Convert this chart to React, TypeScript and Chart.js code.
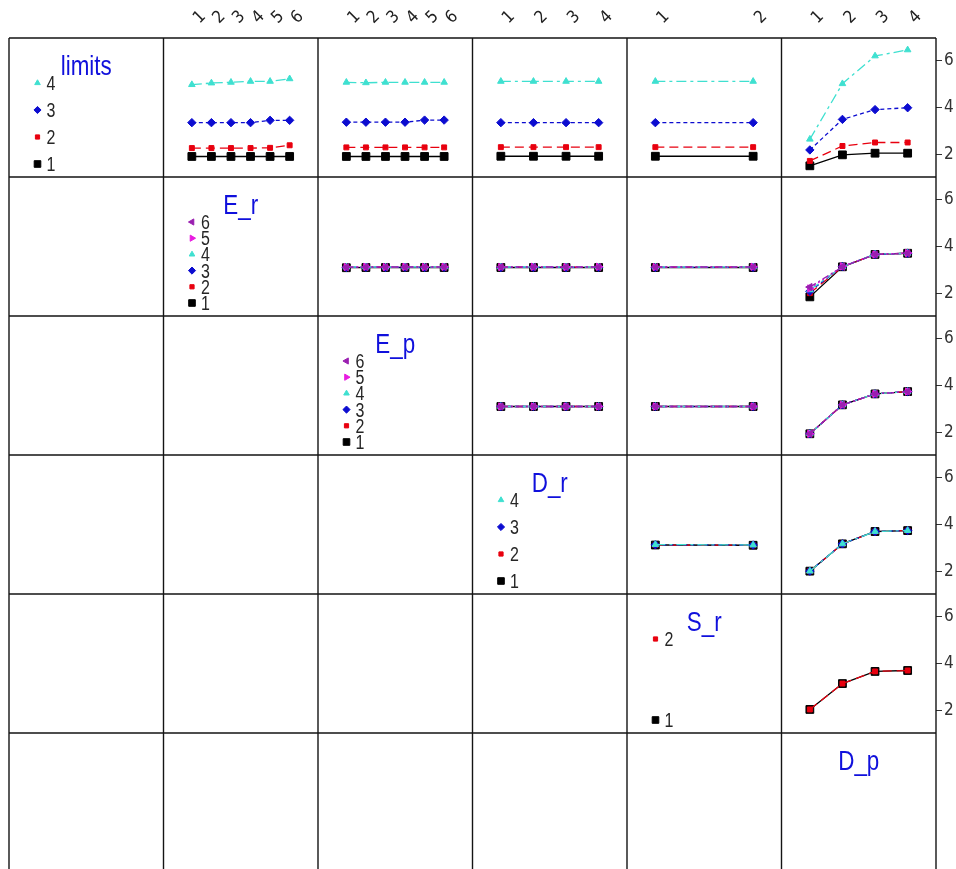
import React, { useEffect, useRef } from 'react';
import { Chart, registerables } from 'chart.js';
import { drawPoint } from 'chart.js/helpers';

Chart.register(...registerables);

// Factors on the diagonal, in panel order (rows = trace factor, columns = x factor)
const factorNames = ['limits', 'E_r', 'E_p', 'D_r', 'S_r', 'D_p'];
const limitsLevels = ['1', '2', '3', '4'];
const erLevels = ['1', '2', '3', '4', '5', '6'];
const epLevels = ['1', '2', '3', '4', '5', '6'];
const drLevels = ['1', '2', '3', '4'];
const srLevels = ['1', '2'];
const dpLevels = ['1', '2', '3', '4'];
const factorLevels = [limitsLevels, erLevels, epLevels, drLevels, srLevels, dpLevels];

// Response axis shown on the right of the last column
const yTickValues = [2, 4, 6];
const yMin = 1.02;
const yMax = 6.98;

// Cell means: one array per trace level, one value per x-factor level
const limitsByEr = [
  [1.9, 1.9, 1.9, 1.9, 1.9, 1.9],
  [2.26, 2.26, 2.26, 2.26, 2.27, 2.38],
  [3.35, 3.35, 3.35, 3.35, 3.45, 3.45],
  [4.98, 5.05, 5.08, 5.12, 5.12, 5.23],
];
const limitsByEp = [
  [1.9, 1.9, 1.9, 1.9, 1.9, 1.9],
  [2.29, 2.29, 2.29, 2.29, 2.29, 2.29],
  [3.37, 3.37, 3.37, 3.37, 3.46, 3.46],
  [5.08, 5.06, 5.08, 5.08, 5.08, 5.08],
];
const limitsByDr = [
  [1.91, 1.91, 1.91, 1.91],
  [2.3, 2.3, 2.3, 2.3],
  [3.35, 3.35, 3.35, 3.35],
  [5.12, 5.12, 5.12, 5.12],
];
const limitsBySr = [
  [1.91, 1.91],
  [2.3, 2.3],
  [3.35, 3.35],
  [5.12, 5.12],
];
const limitsByDp = [
  [1.5, 1.97, 2.04, 2.04],
  [1.71, 2.35, 2.5, 2.5],
  [2.18, 3.49, 3.91, 3.99],
  [2.64, 5.02, 6.21, 6.47],
];
const erByEp = [
  [3.09, 3.1, 3.1, 3.1, 3.1, 3.1],
  [3.11, 3.11, 3.11, 3.11, 3.11, 3.11],
  [3.1, 3.11, 3.1, 3.11, 3.1, 3.11],
  [3.12, 3.12, 3.12, 3.12, 3.12, 3.12],
  [3.12, 3.13, 3.12, 3.13, 3.12, 3.13],
  [3.11, 3.12, 3.12, 3.12, 3.12, 3.12],
];
const erByDr = [
  [3.1, 3.1, 3.1, 3.1],
  [3.11, 3.11, 3.11, 3.11],
  [3.1, 3.11, 3.1, 3.11],
  [3.12, 3.12, 3.12, 3.12],
  [3.12, 3.13, 3.12, 3.13],
  [3.12, 3.12, 3.12, 3.12],
];
const erBySr = [
  [3.1, 3.1],
  [3.11, 3.11],
  [3.1, 3.11],
  [3.12, 3.12],
  [3.12, 3.13],
  [3.12, 3.12],
];
const erByDp = [
  [1.84, 3.13, 3.66, 3.71],
  [2.0, 3.13, 3.66, 3.71],
  [2.08, 3.14, 3.66, 3.71],
  [2.14, 3.13, 3.67, 3.71],
  [2.2, 3.15, 3.66, 3.72],
  [2.26, 3.13, 3.66, 3.71],
];
const epByDr = [
  [3.1, 3.1, 3.1, 3.1],
  [3.1, 3.1, 3.1, 3.1],
  [3.1, 3.1, 3.1, 3.1],
  [3.1, 3.1, 3.1, 3.1],
  [3.1, 3.1, 3.1, 3.1],
  [3.1, 3.1, 3.1, 3.1],
];
const epBySr = [
  [3.1, 3.1],
  [3.1, 3.1],
  [3.1, 3.1],
  [3.1, 3.1],
  [3.1, 3.1],
  [3.1, 3.1],
];
const epByDp = [
  [1.93, 3.17, 3.64, 3.74],
  [1.93, 3.17, 3.64, 3.74],
  [1.93, 3.17, 3.64, 3.74],
  [1.93, 3.17, 3.64, 3.74],
  [1.93, 3.17, 3.64, 3.74],
  [1.93, 3.17, 3.64, 3.74],
];
const drBySr = [
  [3.12, 3.11],
  [3.12, 3.11],
  [3.13, 3.12],
  [3.14, 3.12],
];
const drByDp = [
  [2.0, 3.17, 3.7, 3.74],
  [2.0, 3.17, 3.7, 3.74],
  [2.0, 3.17, 3.7, 3.74],
  [2.0, 3.17, 3.7, 3.74],
];
const srByDp = [
  [2.03, 3.14, 3.66, 3.7],
  [2.03, 3.14, 3.66, 3.7],
];

// Which means go in which panel (row = trace factor, col = x factor)
const panels = [
  { row: 0, col: 1, means: limitsByEr },
  { row: 0, col: 2, means: limitsByEp },
  { row: 0, col: 3, means: limitsByDr },
  { row: 0, col: 4, means: limitsBySr },
  { row: 0, col: 5, means: limitsByDp },
  { row: 1, col: 2, means: erByEp },
  { row: 1, col: 3, means: erByDr },
  { row: 1, col: 4, means: erBySr },
  { row: 1, col: 5, means: erByDp },
  { row: 2, col: 3, means: epByDr },
  { row: 2, col: 4, means: epBySr },
  { row: 2, col: 5, means: epByDp },
  { row: 3, col: 4, means: drBySr },
  { row: 3, col: 5, means: drByDp },
  { row: 4, col: 5, means: srByDp },
];

// Per-level trace styling
const levelColors = ['#000000', '#e8000f', '#0c0cd0', '#3fe0d0', '#e81ce0', '#9a1fb0'];
const levelShapes = ['rect', 'rect', 'rectRot', 'triangle', 'triangle', 'triangle'];
const levelRadii = [5.5, 3.5, 4.2, 3.8, 4.2, 4.2];
const levelRotations = [0, 0, 0, 0, 90, -90];
const levelDashes = [[], [9, 5], [4, 3], [10, 4, 3, 4], [2, 3], [7, 3, 2, 3]];

const NARROW = 0.8;
const TEXT_FONT = '"Liberation Sans", Arial, sans-serif';
const TICK_FONT = '"Liberation Sans Narrow", "DejaVu Sans Condensed", "Liberation Sans", sans-serif';

function narrowText(ctx: CanvasRenderingContext2D, text: string, x: number, y: number, size: number, color: string, align: CanvasTextAlign) {
  ctx.save();
  ctx.translate(x, y);
  ctx.scale(NARROW, 1);
  ctx.font = `${size}px ${TEXT_FONT}`;
  ctx.fillStyle = color;
  ctx.textAlign = align;
  ctx.textBaseline = 'alphabetic';
  ctx.fillText(text, 0, 0);
  ctx.restore();
}

// Cell borders, diagonal titles and trace legends
const panelGrid = {
  id: 'panelGrid',
  beforeDatasetsDraw(chart: any) {
    const ctx: CanvasRenderingContext2D = chart.ctx;
    const cols = factorNames.map((_, c) => chart.scales[`x${c}`]);
    const rows = factorNames.map((_, r) => chart.scales[`y${r}`]);
    const top = rows[0].top;
    const bottom = rows[rows.length - 1].bottom;
    const left = cols[0].left;
    const right = cols[cols.length - 1].right;
    ctx.save();
    ctx.strokeStyle = '#141414';
    ctx.lineWidth = 1.4;
    ctx.beginPath();
    cols.forEach((s: any) => {
      ctx.moveTo(s.left, top);
      ctx.lineTo(s.left, bottom);
    });
    ctx.moveTo(right, top);
    ctx.lineTo(right, bottom);
    rows.forEach((s: any) => {
      ctx.moveTo(left, s.top);
      ctx.lineTo(right, s.top);
    });
    ctx.moveTo(left, bottom);
    ctx.lineTo(right, bottom);
    ctx.stroke();
    ctx.restore();
  },
  afterDraw(chart: any) {
    const ctx: CanvasRenderingContext2D = chart.ctx;
    factorNames.forEach((name, d) => {
      const xs = chart.scales[`x${d}`];
      const ys = chart.scales[`y${d}`];
      const cx = (xs.left + xs.right) / 2;
      narrowText(ctx, name, cx, ys.top + 37, 28, '#1010dc', 'center');
      if (d === factorNames.length - 1) return;
      const levels = factorLevels[d];
      const n = levels.length;
      const span = 81;
      levels.forEach((lab, k) => {
        const y = ys.top + 126 - (n > 1 ? (k * span) / (n - 1) : 0);
        const x = xs.left + 28.5;
        ctx.save();
        ctx.fillStyle = levelColors[k];
        ctx.strokeStyle = levelColors[k];
        ctx.lineWidth = 1;
        drawPoint(ctx, { pointStyle: levelShapes[k], radius: levelRadii[k] * 0.85, rotation: levelRotations[k], borderWidth: 1 } as any, x, y);
        ctx.restore();
        narrowText(ctx, lab, x + 9, y + 7, 20, '#262626', 'left');
      });
    });
  },
};

export default function App() {
  const ref = useRef<HTMLCanvasElement>(null);

  useEffect(() => {
    const canvas = ref.current;
    if (!canvas) return;

    const datasets: any[] = [];
    panels.forEach(({ row, col, means }) => {
      means.forEach((series, k) => {
        datasets.push({
          type: 'line',
          data: series.map((v, i) => ({ x: i + 1, y: v })),
          xAxisID: `x${col}`,
          yAxisID: `y${row}`,
          order: 10 - k,
          borderColor: levelColors[k],
          backgroundColor: levelColors[k],
          borderWidth: 1.3,
          borderDash: levelDashes[k],
          tension: 0,
          fill: false,
          pointStyle: levelShapes[k],
          pointRadius: levelRadii[k],
          pointRotation: levelRotations[k],
          pointBackgroundColor: levelColors[k],
          pointBorderColor: levelColors[k],
          pointBorderWidth: 1,
        });
      });
    });

    const scales: any = {};
    factorLevels.forEach((levels, c) => {
      const n = levels.length;
      const pad = (n - 1) * 0.29;
      scales[`x${c}`] = {
        type: 'linear',
        axis: 'x',
        position: 'top',
        stack: 'cols',
        weight: 10 - c,
        min: 1 - pad,
        max: n + pad,
        grid: { display: false },
        border: { display: false },
        ticks: {
          display: c > 0,
          autoSkip: false,
          minRotation: 45,
          maxRotation: 45,
          padding: 2,
          labelOffset: 19,
          color: '#222',
          font: { family: TICK_FONT, size: 17 },
          callback: (v: number) => levels[Math.round(v) - 1] ?? '',
        },
        afterBuildTicks: (axis: any) => {
          axis.ticks = levels.map((_, i) => ({ value: i + 1 }));
        },
        afterFit: (axis: any) => {
          axis.height = 38;
          axis.paddingLeft = 0;
          axis.paddingRight = 0;
          axis.paddingTop = 0;
          axis.paddingBottom = 0;
        },
      };
      const r = c;
      const shown = r < factorNames.length - 1;
      scales[`y${r}`] = {
        type: 'linear',
        axis: 'y',
        position: 'right',
        stack: 'rows',
        weight: r,
        min: yMin,
        max: yMax,
        grid: { display: shown, drawOnChartArea: false, drawTicks: true, tickLength: 6, color: '#333' },
        border: { display: false },
        ticks: {
          display: shown,
          padding: 2,
          color: '#333',
          font: { family: TICK_FONT, size: 17 },
        },
        afterBuildTicks: (axis: any) => {
          axis.ticks = yTickValues.map((v) => ({ value: v }));
        },
        afterFit: (axis: any) => {
          axis.width = 20;
          axis.paddingLeft = 0;
          axis.paddingRight = 0;
          axis.paddingTop = 0;
          axis.paddingBottom = 0;
        },
      };
    });

    const chart = new Chart(canvas, {
      type: 'line',
      data: { datasets },
      options: {
        animation: false,
        responsive: false,
        devicePixelRatio: 1,
        events: [],
        layout: { padding: { left: 9, top: 0, right: 0, bottom: 8 } },
        plugins: { legend: { display: false }, tooltip: { enabled: false }, title: { display: false } },
        scales,
      },
      plugins: [panelGrid as any],
    });

    return () => chart.destroy();
  }, []);

  return (
    <div style={{ position: 'absolute', left: 0, top: 0, width: 956, height: 869, overflow: 'hidden', background: '#fff' }}>
      <canvas ref={ref} width={956} height={880} style={{ display: 'block', width: 956, height: 880 }} />
    </div>
  );
}
